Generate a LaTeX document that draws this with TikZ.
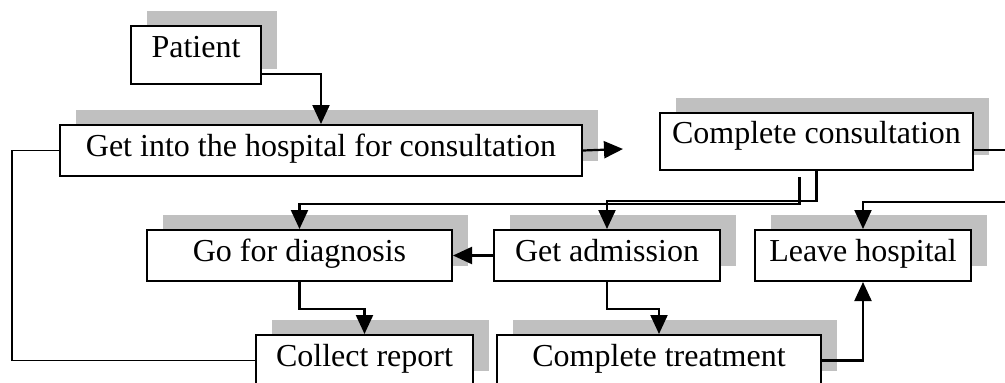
\documentclass[tikz,border=0pt]{standalone}
\usepackage{fontspec}
\setmainfont{Liberation Serif}
\usetikzlibrary{arrows.meta,shadows}
\definecolor{shade}{RGB}{192,192,192}

\begin{document}
\begin{tikzpicture}[x=1pt,y=-1pt,
  box/.style={draw,line width=2pt,fill=white,inner xsep=0pt,inner ysep=0pt,
    text height=31pt,text depth=20pt,anchor=north west,
    font=\fontsize{32}{34}\selectfont,
    drop shadow={shadow xshift=16pt,shadow yshift=15pt,fill=shade,opacity=1}},
  arr/.style={line width=2.2pt,-{Triangle[length=19pt,width=17pt]}},
  link/.style={line width=1.6pt}]
\useasboundingbox (0,0) rectangle (1005,383);
\clip (0,0) rectangle (1005,383);
%boxes
\node[box,minimum width=130pt,text depth=27pt] (patient) at (130,25) {Patient};
\node[box,minimum width=522pt] (hosp) at (59,124) {Get into the hospital for consultation};
\node[box,minimum width=313pt,text height=30pt,text depth=27pt] (cc) at (659,112) {Complete consultation};
\node[box,minimum width=305pt] (diag) at (146,229) {Go for diagnosis};
\node[box,minimum width=226pt] (adm) at (493,229) {Get admission};
\node[box,minimum width=216pt] (leave) at (754,229) {Leave hospital};
\node[box,minimum width=217pt] (report) at (255,334) {Collect report};
\node[box,minimum width=324pt] (treat) at (496,334) {Complete treatment};
%free ends
\coordinate (gap) at (623,149);
\coordinate (rgt) at (1015,202);
%arrows
\draw[arr] ([yshift=-19pt]patient.east) -| (hosp.north);
\draw[link] (hosp.west) -- ++(-47,0) |- (report.west);
\draw[arr] (hosp.east) -- (gap);
\draw[arr] ([yshift=-8.5pt]cc.east) -| (rgt) -| (leave.north);
\draw[arr,shorten <=6pt] ([xshift=-17pt]cc.south) -- ++(0,33) -| (diag.north);
\draw[arr] (cc.south) -- ++(0,30) -| (adm.north);
\draw[arr] (adm.west) -- (diag.east);
\draw[arr] (diag.south) -- ++(0,27) -| (report.north);
\draw[arr] (adm.south) -- ++(0,27) -| (treat.north);
\draw[arr] (treat.east) -| (leave.south);
\end{tikzpicture}
\end{document}
